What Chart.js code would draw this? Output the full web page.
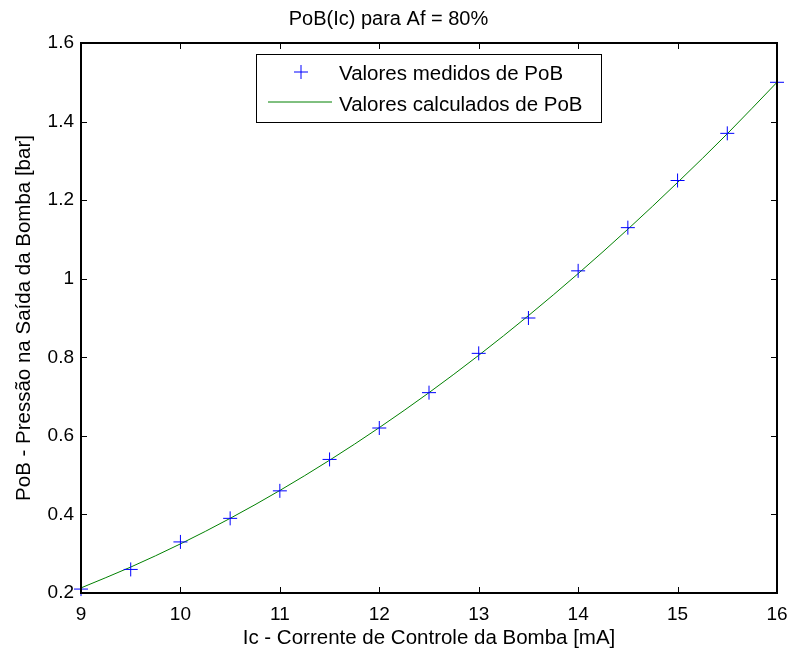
<!DOCTYPE html>
<html>
<head>
<meta charset="utf-8">
<script src="https://cdn.jsdelivr.net/npm/chart.js@4.4.1/dist/chart.umd.min.js"></script>
<style>
  html, body { margin: 0; padding: 0; background: #fff; }
  #wrap { width: 789px; height: 655px; }
</style>
</head>
<body>
<div id="wrap"><canvas id="chart" width="789" height="655"></canvas></div>
<script>
// ── Dati ────────────────────────────────
const ic = [9, 9.5, 10, 10.5, 11, 11.5, 12, 12.5, 13, 13.5, 14, 14.5, 15, 15.5, 16];
const pobMedido = [0.21, 0.26, 0.33, 0.39, 0.46, 0.54, 0.62, 0.71, 0.81, 0.90, 1.02, 1.13, 1.25, 1.37, 1.50];
const pobCalculado = [0.213, 0.266, 0.325, 0.390, 0.461, 0.538, 0.621, 0.710, 0.805, 0.906, 1.013, 1.126, 1.245, 1.369, 1.500];

const xTicks = [9, 10, 11, 12, 13, 14, 15, 16];
const xTickLabels = ['9', '10', '11', '12', '13', '14', '15', '16'];
const yTicks = [0.2, 0.4, 0.6, 0.8, 1.0, 1.2, 1.4, 1.6];
const yTickLabels = ['0.2', '0.4', '0.6', '0.8', '1', '1.2', '1.4', '1.6'];

const FONT = 'Liberation Sans, Arial, sans-serif';

// Box + tacche interne stile MATLAB, e legenda dentro l'area
const matlabAxes = {
  id: 'matlabAxes',
  afterDraw(chart) {
    const { ctx, chartArea: a, scales } = chart;
    ctx.save();
    ctx.strokeStyle = '#000';
    ctx.lineWidth = 1;
    const tl = 6;
    ctx.beginPath();
    xTicks.forEach(v => {
      const x = Math.round(scales.x.getPixelForValue(v)) + 0.5;
      ctx.moveTo(x, a.bottom); ctx.lineTo(x, a.bottom - tl);
      ctx.moveTo(x, a.top); ctx.lineTo(x, a.top + tl);
    });
    yTicks.forEach(v => {
      const y = Math.round(scales.y.getPixelForValue(v)) + 0.5;
      ctx.moveTo(a.left, y); ctx.lineTo(a.left + tl, y);
      ctx.moveTo(a.right, y); ctx.lineTo(a.right - tl, y);
    });
    ctx.stroke();
    ctx.lineWidth = 2;
    ctx.strokeRect(a.left, a.top, a.right - a.left, a.bottom - a.top);

    // Legenda
    const lx = a.left + 175, ly = a.top + 11, lw = 345, lh = 68;
    ctx.fillStyle = '#fff';
    ctx.fillRect(lx, ly, lw, lh);
    ctx.lineWidth = 1;
    ctx.strokeRect(lx + 0.5, ly + 0.5, lw, lh);
    const ds = chart.data.datasets;
    ctx.font = '20.5px ' + FONT;
    ctx.fillStyle = '#000';
    ctx.textBaseline = 'middle';
    const r1 = ly + 18, r2 = ly + 48;
    // riga 1: marker
    ctx.strokeStyle = ds[0].borderColor;
    ctx.beginPath();
    ctx.moveTo(lx + 45 - 7, r1); ctx.lineTo(lx + 45 + 7, r1);
    ctx.moveTo(lx + 45, r1 - 7); ctx.lineTo(lx + 45, r1 + 7);
    ctx.stroke();
    ctx.fillText(ds[0].label, lx + 83, r1 + 2);
    // riga 2: linea
    ctx.strokeStyle = ds[1].borderColor;
    ctx.beginPath();
    ctx.moveTo(lx + 12, r2); ctx.lineTo(lx + 76, r2);
    ctx.stroke();
    ctx.fillText(ds[1].label, lx + 83, r2 + 3);
    ctx.restore();
  }
};

new Chart(document.getElementById('chart'), {
  type: 'line',
  data: {
    datasets: [
      {
        label: 'Valores medidos de PoB',
        data: ic.map((x, i) => ({ x, y: pobMedido[i] })),
        showLine: false,
        pointStyle: 'cross',
        pointRadius: 7,
        pointBorderWidth: 1,
        borderColor: '#0000ff',
        backgroundColor: '#0000ff'
      },
      {
        label: 'Valores calculados de PoB',
        data: ic.map((x, i) => ({ x, y: pobCalculado[i] })),
        borderColor: '#008000',
        borderWidth: 1,
        pointRadius: 0,
        cubicInterpolationMode: 'monotone',
        fill: false
      }
    ]
  },
  options: {
    responsive: false,
    animation: false,
    clip: false,
    layout: { padding: { top: 0, right: 12, left: 0, bottom: 0 } },
    plugins: {
      legend: { display: false },
      tooltip: { enabled: false },
      title: {
        display: true,
        text: 'PoB(Ic) para Af = 80%',
        color: '#000',
        font: { family: FONT, size: 20, weight: 'normal', lineHeight: 1.2 },
        padding: { top: 7, bottom: 12 }
      }
    },
    scales: {
      x: {
        type: 'linear',
        min: 9, max: 16,
        afterFit: s => { s.height = 62; s.paddingLeft = 0; s.paddingRight = 0; },
        afterBuildTicks: s => { s.ticks = xTicks.map(v => ({ value: v })); },
        ticks: {
          callback: (v, i) => xTickLabels[i],
          color: '#000',
          font: { family: FONT, size: 19 },
          padding: 10,
          maxRotation: 0
        },
        grid: { display: false, tickLength: 0 },
        border: { display: false },
        title: {
          display: true,
          text: 'Ic - Corrente de Controle da Bomba [mA]',
          color: '#000',
          font: { family: FONT, size: 20.5, lineHeight: 1.2 },
          padding: { top: 0, bottom: 4 }
        }
      },
      y: {
        type: 'linear',
        min: 0.2, max: 1.6,
        afterFit: s => { s.width = 81; s.paddingTop = 0; s.paddingBottom = 0; },
        afterBuildTicks: s => { s.ticks = yTicks.map(v => ({ value: v })); },
        ticks: {
          callback: (v, i) => yTickLabels[i],
          color: '#000',
          font: { family: FONT, size: 19 },
          padding: 7
        },
        grid: { display: false, tickLength: 0 },
        border: { display: false },
        title: {
          display: true,
          text: 'PoB - Pressão na Saída da Bomba [bar]',
          color: '#000',
          font: { family: FONT, size: 20.5, lineHeight: 1.2 },
          padding: { top: 12, bottom: 0 }
        }
      }
    }
  },
  plugins: [matlabAxes]
});
</script>
</body>
</html>
